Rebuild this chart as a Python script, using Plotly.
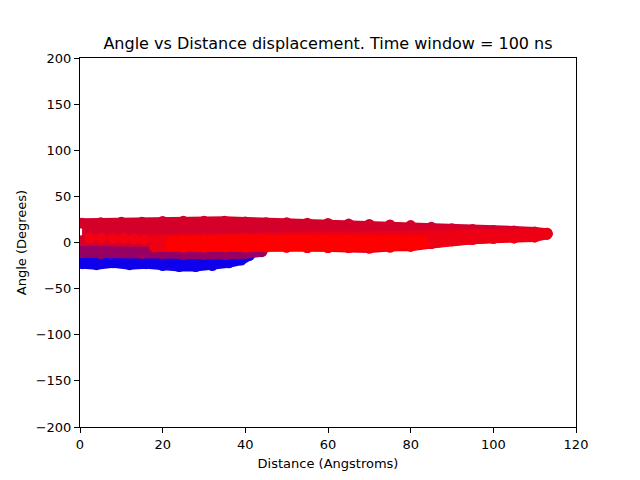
import plotly.graph_objects as go

# band layers (marker centres, degrees vs angstroms)
blue_x = [0.5, 4, 8, 12, 16, 20, 24, 28, 32, 36, 39, 41]
blue_hi = [-12, -12, -12, -12, -12, -12, -12, -12, -12, -11, -10, -9]
blue_lo = [-23, -24, -22, -24, -23, -25, -26, -26, -25, -22, -19, -14]

purple_x = [0.5, 5, 10, 15, 20, 25, 30, 35, 40, 44]
purple_hi = [-1, -1, 0, 0, 0, 0, -1, -2, -3, -4]
purple_lo = [-11, -12, -11, -12, -12, -13, -13, -13, -12, -10]

crimson_x = [0.5, 5, 10, 15, 20, 25, 30, 35, 40, 45, 50, 55, 60, 65, 70, 75, 80, 85, 90, 95, 100, 105, 110, 113]
crimson_hi = [21, 21.5, 22, 22, 22.8, 23, 23, 23, 22.2, 21.5, 21.5, 21, 20.6, 20, 19.5, 19, 18.4, 16.5, 15, 14, 13, 12.5, 11.4, 10]
crimson_lo = [2, 2, 2, 2, 1, 0, -1, -2, -3, -4, -5, -5.5, -5.5, -5.5, -6, -5, -4, -1, 2, 3.5, 4.5, 5, 6, 9]

red_x = [18, 25, 30, 40, 45, 50, 55, 60, 65, 70, 75, 80, 85, 90, 95, 100, 105, 110, 113]
red_hi = [3, 4, 5, 5.5, 6, 6, 6, 6, 6, 6, 6, 6.5, 7, 8, 9, 9, 9, 9.5, 10]
red_lo = [-5, -5, -5, -5, -5, -5, -5.5, -5.5, -5.5, -6, -5, -4, -1, 2, 3.5, 4.5, 5, 6, 9]

bright_x = [22, 25, 30, 35, 40, 45, 50, 55, 60, 65, 70, 75, 80, 83]
bright_hi = [1, 2, 2, 3, 3, 3, 3, 3, 3, 3, 3, 3, 2, 1]
bright_lo = [-4, -5, -5, -5, -5, -5, -5, -5, -5, -5, -5, -4, -3, -1]

dots_x = [2.4, 5.2, 8, 10.5, 13, 15.5]
dots_y = [5, 5, 4.5, 4.5, 4, 3.5]

fig = go.Figure()


def add_band(x, hi, lo, color):
    fig.add_trace(go.Scatter(x=x, y=hi, mode="lines+markers",
                             line=dict(color=color, width=10),
                             marker=dict(color=color, size=11),
                             hoverinfo="skip"))
    fig.add_trace(go.Scatter(x=x, y=lo, mode="lines+markers", fill="tonexty",
                             fillcolor=color,
                             line=dict(color=color, width=10),
                             marker=dict(color=color, size=11),
                             hoverinfo="skip"))


add_band(blue_x, blue_hi, blue_lo, "rgb(15,0,235)")
add_band(purple_x, purple_hi, purple_lo, "rgb(150,0,100)")
add_band(crimson_x, crimson_hi, crimson_lo, "rgb(212,0,42)")
add_band(red_x, red_hi, red_lo, "rgb(238,0,20)")
add_band(bright_x, bright_hi, bright_lo, "rgb(255,0,0)")
fig.add_trace(go.Scatter(x=dots_x, y=dots_y, mode="markers",
                         marker=dict(color="rgb(245,0,15)", size=11),
                         hoverinfo="skip"))

axis_style = dict(showline=True, linecolor="black", linewidth=1, mirror=True,
                  ticks="outside", ticklen=5, tickcolor="black",
                  showgrid=False, zeroline=False,
                  tickfont=dict(size=13, color="black"))

fig.update_xaxes(range=[0, 120], dtick=20,
                 title=dict(text="Distance (Angstroms)", font=dict(size=13, color="black"), standoff=8),
                 **axis_style)
fig.update_yaxes(range=[-200, 200], dtick=50,
                 title=dict(text="Angle (Degrees)", font=dict(size=13, color="black"), standoff=6),
                 **axis_style)

# page body has an 8px margin, so the plot box is shifted back by that much
fig.update_layout(
    width=640, height=480,
    margin=dict(l=72, r=72, t=50, b=61),
    showlegend=False,
    plot_bgcolor="white", paper_bgcolor="white",
    font=dict(family="DejaVu Sans", color="black"),
    title=dict(text="Angle vs Distance displacement. Time window = 100 ns",
               x=0.5, xanchor="center", xref="paper", y=0.915, yanchor="bottom",
               font=dict(size=16, color="black")),
)

fig.write_html("out.html")
